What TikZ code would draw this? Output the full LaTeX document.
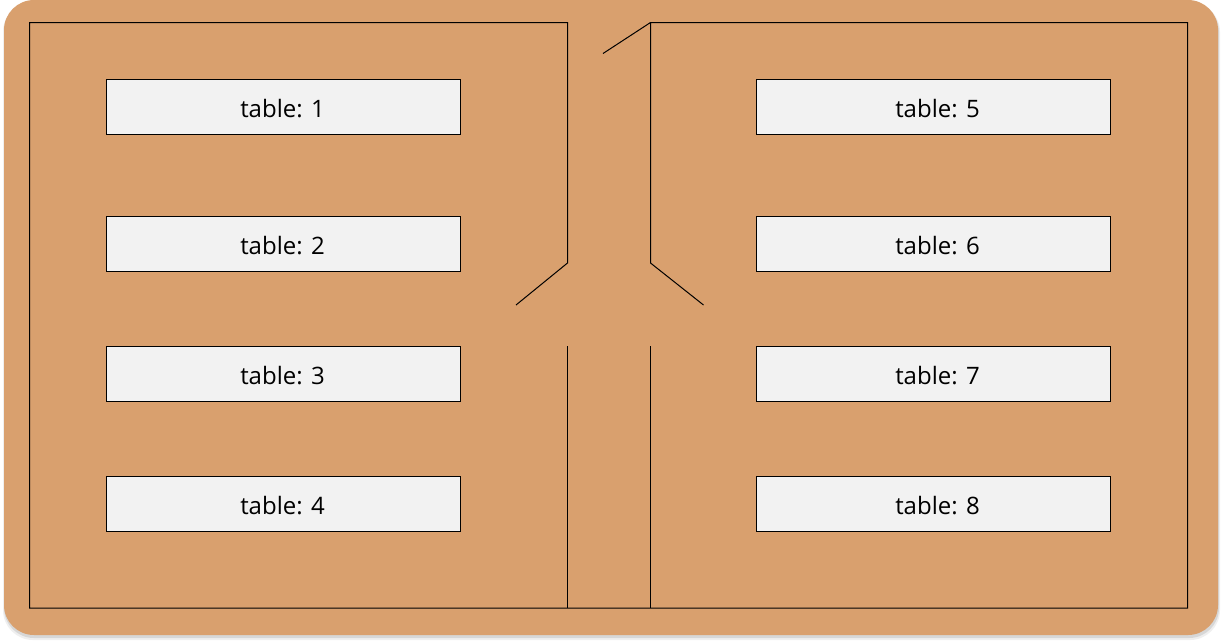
\documentclass[tikz,border=0pt]{standalone}
\usepackage{fontspec}
\setmainfont{Open Sans}
\definecolor{floorcol}{HTML}{D9A06E}
\definecolor{tablecol}{HTML}{F2F2F2}
\definecolor{shadowcol}{HTML}{C0C0C0}
\newcommand{\tabL}[1]{\smash{\raisebox{-10.5pt}{\hspace*{-2pt}table: #1}}}
\newcommand{\tabR}[1]{\smash{\raisebox{-10.5pt}{\hspace*{8pt}table: #1}}}
\tikzset{
  wall/.style={draw=black,line width=1pt,line join=miter},
  tablebox/.style={draw=black,fill=tablecol,line width=1pt,minimum width=354pt,minimum height=55pt,inner sep=0pt,text=black,font=\fontsize{24}{28}\selectfont},
}
\begin{document}
\begin{tikzpicture}[x=1pt,y=-1pt]
\useasboundingbox (0,0) rectangle (1222,643);
\fill[white] (0,0) rectangle (1222,643);
\fill[shadowcol,opacity=.25,rounded corners=30pt] (3,2) rectangle (1220,640);
\fill[shadowcol,opacity=.5,rounded corners=30pt] (4,2) rectangle (1219,638);
\fill[floorcol,rounded corners=30pt] (4,0) rectangle (1218,635);
\draw[wall] (516,305) -- (567.5,263) -- (567.5,22.5) -- (29.5,22.5) -- (29.5,608) -- (1187.5,608) -- (1187.5,22.5) -- (650.5,22.5) -- (650.5,263) -- (703.5,305);
\draw[wall] (567.5,346) -- (567.5,608);
\draw[wall] (650.5,346) -- (650.5,608);
\draw[wall] (603,53.5) -- (650.5,22.5);
\node[tablebox] (t1) at (283.5,107) {\tabL{1}};
\node[tablebox] (t2) at (283.5,244) {\tabL{2}};
\node[tablebox] (t3) at (283.5,374) {\tabL{3}};
\node[tablebox] (t4) at (283.5,504) {\tabL{4}};
\node[tablebox] (t5) at (933.5,107) {\tabR{5}};
\node[tablebox] (t6) at (933.5,244) {\tabR{6}};
\node[tablebox] (t7) at (933.5,374) {\tabR{7}};
\node[tablebox] (t8) at (933.5,504) {\tabR{8}};
\end{tikzpicture}
\end{document}
